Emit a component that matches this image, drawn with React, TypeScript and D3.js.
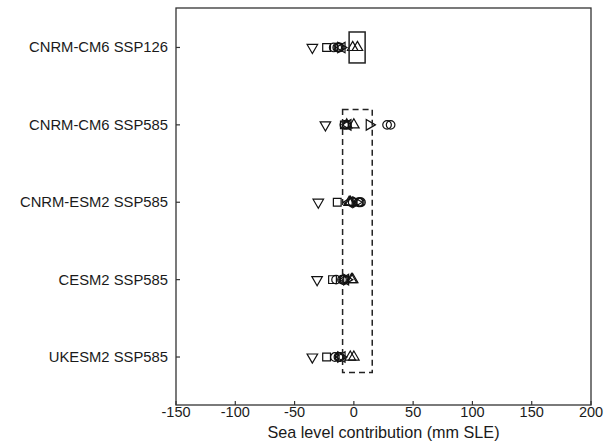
import React from "react";
import * as d3 from "d3";

const categories = [
  "CNRM-CM6 SSP126",
  "CNRM-CM6 SSP585",
  "CNRM-ESM2 SSP585",
  "CESM2 SSP585",
  "UKESM2 SSP585",
];

const xTicks = [-150, -100, -50, 0, 50, 100, 150, 200];

// per-marker series, one value per category (mm SLE)
const downTri = [-35, -24, -30, -31, -35];
const squares = [-23, -8, -14, -18, -23];
const circlesA = [-17, -8, -1, -15, -16];
const circlesB = [-13, -6, 4, -10, -13];
const leftTri = [-10, -5, -4, -7, -10];
const upTri = [-1, 0, -3, -1, -3];
const rightTri = [-11, 13, 2, -6, -11];
const circlesC = [-12, 28, 6, -9, -12];
const upTri2 = [3, -6, -4, -2, 0];
const circlesD = [-14, 31, 5, -8, -12];

// ranges drawn as boxes: [xmin, xmax, firstRow, lastRow]
const solidBox = [-4, 9.5, 1, 1];
const dashedBox = [-9.5, 15.5, 2, 5];

const seriesList: { values: number[]; shape: string }[] = [
  { values: downTri, shape: "down" },
  { values: squares, shape: "square" },
  { values: circlesA, shape: "circle" },
  { values: circlesB, shape: "circle" },
  { values: leftTri, shape: "left" },
  { values: upTri, shape: "up" },
  { values: rightTri, shape: "right" },
  { values: circlesC, shape: "circle" },
  { values: upTri2, shape: "up" },
  { values: circlesD, shape: "circle" },
];

const W = 615;
const H = 443;
const L = 176;
const R = 591;
const T = 8;
const B = 405;

export default function App() {
  const x = d3.scaleLinear().domain([-150, 200]).range([L, R]);
  const y = d3.scaleLinear().domain([0.49, 5.62]).range([T, B]);

  const tri = d3.symbol().type(d3.symbolTriangle).size(48)()!;
  const sq = d3.symbol().type(d3.symbolSquare).size(60)()!;
  const circ = d3.symbol().type(d3.symbolCircle).size(58)()!;
  const rot: Record<string, number> = { up: 0, down: 180, left: -90, right: 90 };

  const font = "'Liberation Sans', Arial, Helvetica, sans-serif";

  const box = (b: number[], dashed: boolean) => (
    <rect
      x={x(b[0])}
      y={y(b[2] - 0.2)}
      width={x(b[1]) - x(b[0])}
      height={y(b[3] + 0.2) - y(b[2] - 0.2)}
      fill="none"
      stroke="#222"
      strokeWidth={1.5}
      strokeDasharray={dashed ? "6,4" : undefined}
    />
  );

  return (
    <svg width={W} height={H} style={{ position: "absolute", left: 0, top: 0, background: "#fff" }}>
      <rect x={0} y={0} width={W} height={H} fill="#fff" />
      {/* markers */}
      <g fill="none" stroke="#111" strokeWidth={1.2}>
        {seriesList.map((s, si) =>
          s.values.map((v, i) => {
            const cx = x(v);
            const cy = y(i + 1);
            let d = circ;
            let r = 0;
            if (s.shape === "square") d = sq;
            else if (s.shape !== "circle") {
              d = tri;
              r = rot[s.shape];
            }
            return (
              <path
                key={`${si}-${i}`}
                d={d}
                transform={`translate(${cx},${cy}) rotate(${r})`}
              />
            );
          })
        )}
      </g>
      {box(solidBox, false)}
      {box(dashedBox, true)}
      {/* frame */}
      <rect x={L} y={T} width={R - L} height={B - T} fill="none" stroke="#333" strokeWidth={1.3} />
      {/* x ticks */}
      {xTicks.map((t) => (
        <g key={t}>
          <line x1={x(t)} x2={x(t)} y1={B} y2={B - 4} stroke="#333" strokeWidth={1.2} />
          <text
            x={x(t)}
            y={417}
            textAnchor="middle"
            fontFamily={font}
            fontSize={14.5}
            fill="#1a1a1a"
          >
            {t}
          </text>
        </g>
      ))}
      {/* y ticks */}
      {categories.map((c, i) => (
        <g key={c}>
          <line x1={L} x2={L + 4} y1={y(i + 1)} y2={y(i + 1)} stroke="#333" strokeWidth={1.2} />
          <text
            x={168}
            y={y(i + 1) + 5}
            textAnchor="end"
            fontFamily={font}
            fontSize={14.8}
            fill="#1a1a1a"
          >
            {c}
          </text>
        </g>
      ))}
      <text
        x={(L + R) / 2}
        y={438}
        textAnchor="middle"
        fontFamily={font}
        fontSize={16.2}
        fill="#1a1a1a"
      >
        Sea level contribution (mm SLE)
      </text>
    </svg>
  );
}
